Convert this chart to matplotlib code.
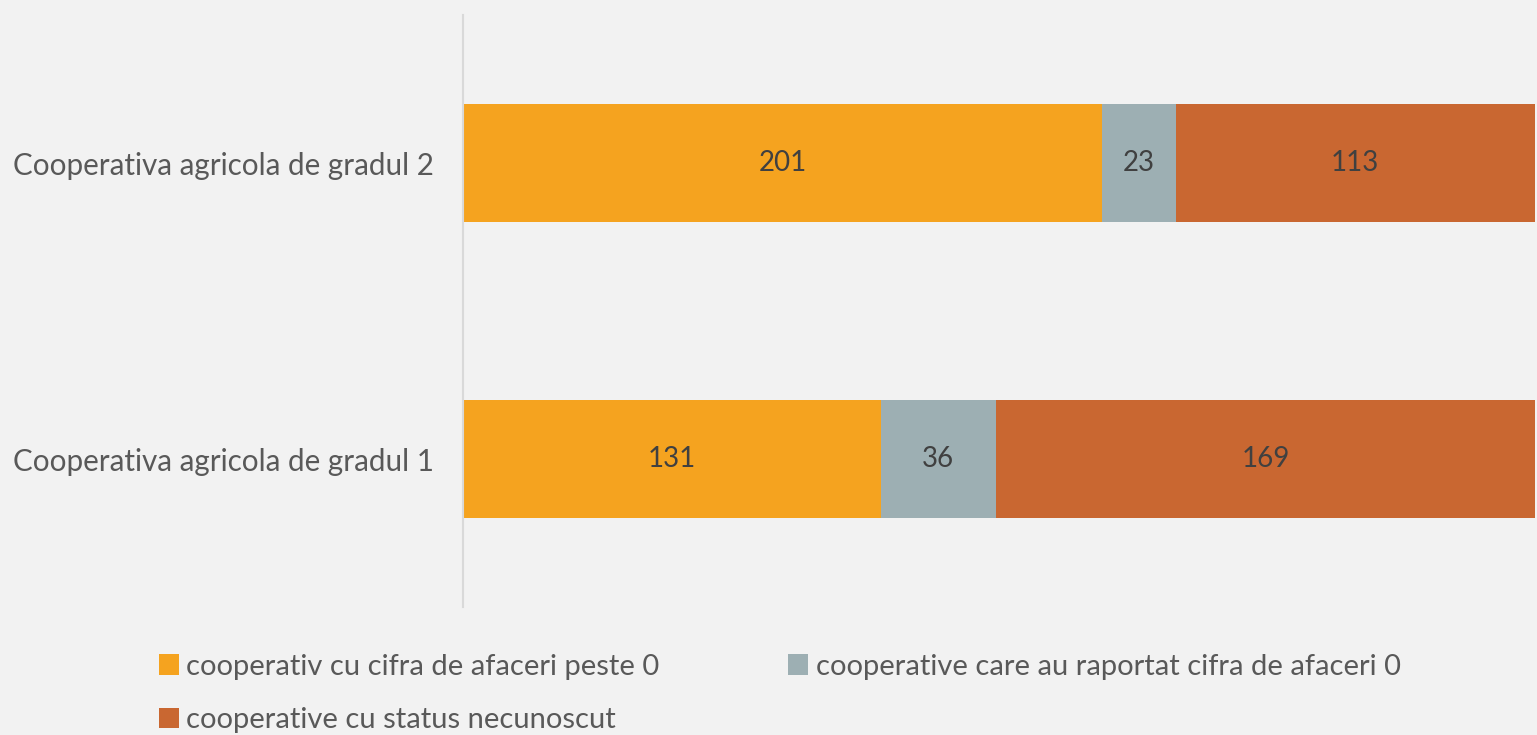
import matplotlib
matplotlib.use("Agg")
import matplotlib.pyplot as plt
import numpy as np

categories = ["Cooperativa agricola de gradul 1", "Cooperativa agricola de gradul 2"]
series_names = ["cooperativ cu cifra de afaceri peste 0",
                "cooperative care au raportat cifra de afaceri 0",
                "cooperative cu status necunoscut"]
vals_pozitiv = [131, 201]
vals_zero = [36, 23]
vals_necunoscut = [169, 113]
colors = ["#F5A31F", "#9DAFB3", "#C96731"]

plt.rcParams['font.family'] = ['Lato', 'DejaVu Sans']
bg = "#F2F2F2"
fig = plt.figure(figsize=(15.37, 7.35), dpi=100, facecolor=bg)
ax = fig.add_axes([463/1537, 1-607/735, (1535-463)/1537, 592/735], facecolor=bg)

data = np.array([vals_pozitiv, vals_zero, vals_necunoscut], dtype=float)
totals = data.sum(axis=0)
shares = data / totals
y = np.arange(len(categories))
left = np.zeros(len(categories))
for i, name in enumerate(series_names):
    bars = ax.barh(y, shares[i], left=left, height=0.4, color=colors[i], label=name)
    for j, b in enumerate(bars):
        ax.text(left[j] + shares[i][j]/2, y[j], f"{int(data[i][j])}",
                ha='center', va='center', fontsize=20, color="#404040")
    left += shares[i]

ax.set_xlim(0, 1)
ax.set_ylim(-0.5, 1.5)
ax.set_yticks(y)
ax.set_yticklabels(categories, fontsize=21.3, color="#595959")
ax.tick_params(axis='y', length=0, pad=21)
ax.set_xticks([])
for s in ['top', 'right', 'bottom']:
    ax.spines[s].set_visible(False)
ax.spines['left'].set_color("#D9D9D9")
ax.spines['left'].set_linewidth(1.5)

handles, labels = ax.get_legend_handles_labels()
order = [0, 2, 1]
leg = fig.legend([handles[k] for k in order], [labels[k] for k in order],
                 loc='upper left', bbox_to_anchor=(150/1537, 1-645/735),
                 ncol=2, frameon=False, fontsize=21, labelcolor="#595959",
                 handlelength=0.7, handleheight=0.7, handletextpad=0.25,
                 columnspacing=4.4, labelspacing=0.95, borderaxespad=0, borderpad=0.3)

fig.savefig("out.png", dpi=100, facecolor=bg)
